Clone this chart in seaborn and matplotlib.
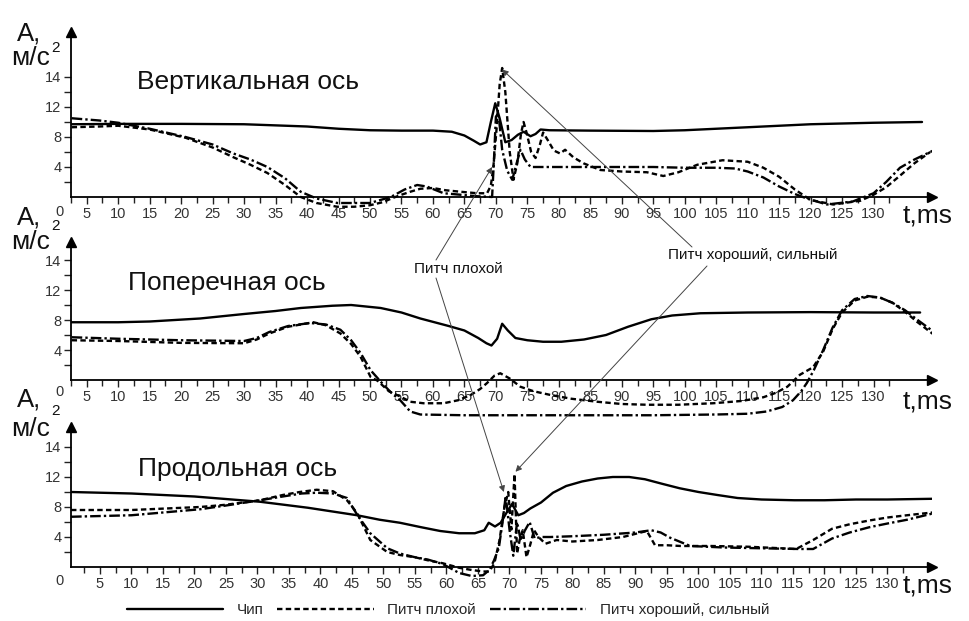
import numpy as np
import pandas as pd
import seaborn as sns
import matplotlib.pyplot as plt
from matplotlib.lines import Line2D

sns.set_theme(style='white')
plt.rcParams['font.family'] = ['Liberation Sans', 'DejaVu Sans']

SERIES = ['Чип', 'Питч плохой', 'Питч хороший, сильный']
PANEL_TITLES = ['Вертикальная ось', 'Поперечная ось', 'Продольная ось']

# y tick positions and the labels printed in the original figure
y_ticks = [4, 8, 12, 16]
y_tick_labels = ['4', '8', '12', '14']
y_minor = [2, 6, 10, 14]
x_ticks = list(range(5, 131, 5))
x_minor = [t + 2.5 for t in range(0, 135, 5)]

# --- vertical axis ---
vert_t_chip = [2.6, 10, 20, 30, 40, 45, 50, 55, 60, 63, 65, 66.5, 67.5, 68.5, 69.2, 69.9, 70.6, 71.5, 72.5, 73.5,
               74.4, 75.5, 76.3, 77.1, 78.5, 85, 95, 100, 105, 110, 115, 120, 125, 130, 137.7]
vert_a_chip = [9.7, 9.75, 9.75, 9.7, 9.4, 9.1, 8.9, 8.85, 8.85, 8.7, 8.2, 7.5, 7.0, 7.3, 10.0, 12.5, 10.5, 7.3, 7.6, 8.3,
               8.7, 8.1, 8.4, 9.0, 8.9, 8.85, 8.8, 8.9, 9.1, 9.3, 9.5, 9.7, 9.8, 9.9, 10.0]
vert_t_bad = [2.6, 7, 10, 15, 20.7, 25, 28.3, 31, 33.7, 36.5, 39, 41.5, 44.8, 47.5, 50, 52, 53.7, 55, 56.4, 58,
              60, 62, 64.4, 67, 68.6, 69.2, 69.6, 70.1, 70.6, 71.0, 71.5, 72.2, 72.8, 73.4, 74.0, 74.4, 74.9, 75.6, 76.3, 77.0,
              77.5, 78.3, 79.2, 80.2, 81.0, 82.3, 83.9, 86.6, 90, 94, 96.6, 99, 102, 106, 110, 112.5, 115, 117.5, 120, 123.6,
              127.9, 130, 132, 134, 136.5, 139]
vert_a_bad = [9.3, 9.4, 9.5, 9.0, 7.9, 6.6, 5.3, 4.3, 3.2, 1.6, 0.0, -0.8, -1.3, -1.3, -1.1, -0.7, -0.1, 0.3, 0.7, 1.1,
              1.2, 0.9, 0.7, 0.5, 0.5, 1.5, 4.0, 9.0, 15.0, 17.2, 14.0, 6.0, 2.3, 4.5, 8.5, 10.0, 8.5, 6.0, 5.2, 7.0,
              8.6, 7.5, 6.2, 5.8, 6.3, 5.3, 4.5, 3.6, 3.4, 3.3, 2.8, 3.3, 4.3, 4.9, 4.7, 3.9, 2.7, 1.0, -0.4, -1.0,
              -0.5, 0.3, 1.3, 2.7, 4.5, 6.0]
vert_t_good = [2.6, 7, 10, 15, 20.7, 25, 28.3, 31, 33.7, 36.5, 39, 41.5, 44.8, 47.5, 50, 53.3, 55.5, 57.5, 59, 61.7,
               64.4, 67, 69.4, 69.7, 70.0, 70.4, 71.0, 71.8, 72.6, 73.3, 73.9, 74.6, 75.5, 77, 80, 85, 90, 95, 100, 105,
               108, 110, 112.5, 115, 117.5, 119.4, 122.6, 126.7, 130, 132, 134.2, 136.5, 139.5]
vert_a_good = [10.5, 10.2, 9.9, 9.1, 8.0, 7.0, 5.8, 5.0, 4.0, 2.5, 0.7, -0.2, -0.8, -0.8, -0.8, 0.0, 1.0, 1.6, 1.4, 0.5,
               0.3, 0.1, 0.0, 5.0, 10.7, 11.2, 6.3, 3.5, 2.3, 4.5, 6.3, 5.0, 4.0, 4.0, 4.0, 4.0, 4.0, 4.0, 3.9, 3.9,
               3.8, 3.4, 2.6, 1.4, 0.4, -0.2, -1.0, -0.6, 0.5, 2.0, 3.9, 5.0, 6.2]

# --- transverse axis ---
cross_t_chip = [2.6, 10, 15, 23, 30, 35, 39, 44, 47, 51.7, 55, 58, 62.5, 65, 67.2, 68.5, 69.3, 70.2, 71.0, 71.9,
                73.1, 75, 77.5, 80.4, 84, 87.5, 91, 94.7, 98, 102.5, 110, 120, 130, 137.4]
cross_a_chip = [7.7, 7.7, 7.8, 8.2, 8.8, 9.2, 9.6, 9.9, 10.0, 9.6, 9.0, 8.2, 7.2, 6.6, 5.6, 4.9, 4.6, 5.5, 7.5, 6.6,
                5.6, 5.3, 5.1, 5.1, 5.4, 6.0, 7.1, 8.1, 8.6, 8.9, 9.0, 9.05, 9.0, 9.0]
cross_t_bad = [2.6, 10, 20, 30, 32, 34, 37, 41, 43, 45.3, 47, 48.5, 50.1, 51.2, 53, 54.8, 56.4, 58.5, 61.7, 64,
               66, 67.5, 68.6, 69.8, 70.7, 72.2, 73.9, 76, 78.7, 82, 86.1, 90, 94, 99, 104.5, 109, 112.5, 114.5, 116.3, 118.3,
               120.4, 122, 123.5, 125, 127, 129, 131, 133, 135, 137, 139.8]
cross_a_bad = [5.3, 5.2, 4.95, 4.9, 5.4, 6.2, 7.1, 7.7, 7.3, 6.2, 4.8, 3.1, 0.4, -0.1, -1.5, -2.2, -2.9, -3.1, -3.1, -2.7,
               -2.0, -1.2, -0.4, 0.6, 0.9, 0.2, -0.9, -1.5, -2.0, -2.5, -2.9, -3.2, -3.3, -3.3, -3.1, -2.8, -2.3, -1.7, -0.9, 0.7,
               1.7, 3.8, 6.8, 9.0, 10.6, 11.1, 11.0, 10.3, 9.1, 7.7, 5.9]
cross_t_good = [2.6, 10, 20, 30, 32, 34, 37, 40.5, 43, 45.3, 47, 48.5, 50.1, 52, 53.5, 54.8, 56.4, 58, 65, 80,
                95, 105, 110, 113, 115.5, 117.2, 118.5, 119.4, 120.5, 122, 123.5, 125, 127, 129, 131, 133, 135, 137, 139.6]
cross_a_good = [5.7, 5.5, 5.3, 5.2, 5.6, 6.4, 7.2, 7.6, 7.4, 6.7, 5.3, 3.6, 1.3, -0.5, -1.8, -2.7, -4.2, -4.6, -4.7, -4.7,
                -4.7, -4.6, -4.5, -4.2, -3.6, -2.7, -1.5, -0.4, 1.3, 4.0, 7.0, 9.3, 10.8, 11.2, 11.0, 10.3, 9.3, 8.0, 6.4]

# --- longitudinal axis ---
long_t_chip = [0.4, 10, 20, 30.4, 38, 45.8, 49.4, 52.6, 56, 59, 62, 64.5, 66, 66.7, 67.7, 68.6, 69.5, 70.4, 71.4, 72.3,
               73.3, 75, 76.9, 79, 81.5, 84, 86.4, 89, 91.5, 94.2, 97, 100, 103, 106.2, 110, 115.2, 120, 125, 130, 137.5]
long_a_chip = [10.0, 9.8, 9.4, 8.7, 7.9, 6.9, 6.3, 5.9, 5.3, 4.8, 4.5, 4.5, 4.9, 5.9, 5.4, 5.9, 7.2, 8.4, 6.9, 7.2,
               7.8, 8.6, 9.9, 10.8, 11.4, 11.8, 12.0, 12.0, 11.7, 11.1, 10.5, 10.0, 9.6, 9.2, 9.0, 8.9, 8.9, 9.0, 9.0, 9.1]
long_t_bad = [0.4, 10, 20.9, 25, 30.4, 34, 36.7, 39.4, 42, 44.2, 45.8, 47.9, 50.6, 52.6, 55, 57, 59.4, 62, 64, 65.8,
              66.8, 67.6, 68.4, 69.2, 69.8, 70.3, 70.8, 71.2, 71.7, 72.1, 72.7, 73.3, 73.9, 74.6, 75.7, 77.5, 80, 84, 88, 91.8,
              93.1, 95, 97.2, 102, 108, 113, 115.5, 118.2, 121.2, 124, 127.1, 130, 133.1, 137.5]
long_a_bad = [7.6, 7.6, 8.0, 8.3, 8.9, 9.6, 10.0, 10.3, 10.1, 8.9, 7.2, 3.6, 2.0, 1.6, 1.3, 0.9, 0.5, -0.1, -0.4, -0.6,
              -0.6, 0.5, 3.5, 8.0, 10.0, 5.0, 12.4, 1.8, 4.0, 4.9, 1.3, 3.0, 4.9, 4.0, 3.1, 3.6, 3.4, 3.6, 4.0, 4.8,
              2.9, 2.9, 2.8, 2.8, 2.7, 2.5, 2.4, 3.6, 5.1, 5.7, 6.2, 6.6, 6.9, 7.3]
long_t_good = [0.4, 10, 20.9, 25, 30.4, 34, 37, 39.4, 42, 44.2, 45.8, 47.9, 50.6, 52.6, 55, 57, 59.4, 62, 64, 65.8,
               66.8, 67.5, 68.3, 68.9, 69.4, 70.0, 70.6, 71.2, 71.8, 72.4, 73.2, 74.0, 75.0, 76.5, 80, 85, 90, 92.5, 94, 95.5,
               98.7, 104, 109.8, 116, 118.2, 121.2, 124, 127.1, 130, 133.1, 137.5]
long_a_good = [6.7, 6.9, 7.7, 8.2, 8.9, 9.4, 9.8, 9.9, 9.8, 9.2, 7.0, 4.5, 2.5, 1.8, 1.3, 1.0, 0.4, -0.8, -1.2, -1.1,
               -0.4, 0.8, 2.5, 6.0, 9.5, 5.0, 1.5, 6.0, 3.5, 4.8, 6.0, 3.8, 4.0, 4.0, 4.1, 4.3, 4.6, 4.9, 4.6, 3.9,
               2.8, 2.6, 2.5, 2.4, 2.4, 3.8, 4.6, 5.3, 5.8, 6.3, 7.2]


def panel_frame(ts, As):
    parts = [pd.DataFrame({'t': t, 'a': a, 'series': s}) for t, a, s in zip(ts, As, SERIES)]
    return pd.concat(parts, ignore_index=True)


frames = [
    panel_frame([vert_t_chip, vert_t_bad, vert_t_good], [vert_a_chip, vert_a_bad, vert_a_good]),
    panel_frame([cross_t_chip, cross_t_bad, cross_t_good], [cross_a_chip, cross_a_bad, cross_a_good]),
    panel_frame([long_t_chip, long_t_bad, long_t_good], [long_a_chip, long_a_bad, long_a_good]),
]

W, H = 970, 621
PX_PER_MS, PX_PER_UNIT = 6.3, 7.5
DASHES = {'Чип': '', 'Питч плохой': (2.3, 1.4), 'Питч хороший, сильный': (4.5, 1.3, 1, 1.3)}
STYLES = ['-', (0, (2.3, 1.4)), (0, (4.5, 1.3, 1, 1.3))]
INK = '#111111'
LW = 1.7


def fx(px, py):
    return px / W, 1 - py / H


fig = plt.figure(figsize=(W / 100, H / 100), dpi=100)

# panel geometry in pixels: y of zero line, top of y axis, lowest value, px of 5 ms
panels = [dict(y0=197, top=32, ymin=-2.5, x5=86),
          dict(y0=380, top=242, ymin=-5.4, x5=86),
          dict(y0=567, top=427, ymin=-1.9, x5=100)]
left_px, right_px = 71, 932

axes = []
for p, df in zip(panels, frames):
    bottom_px = p['y0'] - p['ymin'] * PX_PER_UNIT
    ax = fig.add_axes([left_px / W, 1 - bottom_px / H, (right_px - left_px) / W, (bottom_px - p['top']) / H])
    ax.patch.set_alpha(0)
    sns.lineplot(data=df, x='t', y='a', style='series', style_order=SERIES, dashes=DASHES,
                 color='black', linewidth=LW, estimator=None, sort=False, legend=False, ax=ax)
    xmin = 5 + (left_px - p['x5']) / PX_PER_MS
    xmax = 5 + (right_px - p['x5']) / PX_PER_MS
    ymax = (p['y0'] - p['top']) / PX_PER_UNIT
    ax.set_xlim(xmin, xmax)
    ax.set_ylim(p['ymin'], ymax)
    ax.set_xlabel('')
    ax.set_ylabel('')
    ax.spines[['top', 'right']].set_visible(False)
    ax.spines['bottom'].set_position(('data', 0))
    ax.spines['left'].set_bounds(0, ymax)
    for s in ('left', 'bottom'):
        ax.spines[s].set_color('black')
        ax.spines[s].set_linewidth(1.3)
    ax.plot(1, 0, '>', color='black', ms=7, transform=ax.get_yaxis_transform(), clip_on=False)
    ax.plot(0, 1, '^', color='black', ms=7, transform=ax.transAxes, clip_on=False)

    ax.set_xticks(x_ticks)
    ax.set_xticklabels([str(v) for v in x_ticks])
    ax.set_xticks(x_minor, minor=True)
    ax.set_yticks(y_ticks)
    ax.set_yticklabels(y_tick_labels)
    ax.set_yticks(y_minor, minor=True)
    ax.tick_params(axis='both', which='both', direction='out', color='#222222', width=1,
                   labelsize=10.5, labelcolor='#333333', bottom=True, left=True)
    ax.tick_params(axis='x', which='major', length=5, pad=2)
    ax.tick_params(axis='x', which='minor', length=4)
    ax.tick_params(axis='y', which='both', length=5, pad=2)
    ax.grid(False)
    axes.append(ax)

# axis captions, origin zeros, time labels and panel titles
for (ax_y, sup_y, ms_y), zero_y, t_y, (tx, ty), title in zip(
        [(34, 48, 58), (218, 226, 242), (399, 411, 429)],
        [212, 392, 581], [215, 401, 586],
        [(248, 82), (227, 283), (238, 469)], PANEL_TITLES):
    fig.text(*fx(29, ax_y), 'А,', fontsize=18.5, ha='center', va='center', color=INK)
    fig.text(*fx(31, ms_y), 'м/с', fontsize=19, ha='center', va='center', color=INK)
    fig.text(*fx(56, sup_y), '2', fontsize=11, ha='center', va='center', color=INK)
    fig.text(*fx(60, zero_y), '0', fontsize=10.5, ha='center', va='center', color='#333333')
    fig.text(*fx(928, t_y), 't,ms', fontsize=19, ha='center', va='center', color=INK)
    fig.text(*fx(tx, ty), title, fontsize=19, ha='center', va='center', color=INK)

# annotations pointing into the panels
fig.text(*fx(458, 269), 'Питч плохой', fontsize=11, ha='center', va='center', color=INK)
fig.text(*fx(753, 255), 'Питч хороший, сильный', fontsize=11, ha='center', va='center', color=INK)
arrow = dict(arrowstyle='-|>', color='#444444', lw=0.7, mutation_scale=9, shrinkA=0, shrinkB=0)
for ax, tip, start in [(axes[0], (69.4, 4.0), (436, 260)),
                       (axes[2], (69.1, 10.0), (436, 278)),
                       (axes[0], (71.0, 17.0), (692, 247)),
                       (axes[2], (70.95, 12.7), (707, 266))]:
    ax.annotate('', xy=tip, xycoords='data', xytext=fx(*start), textcoords='figure fraction',
                arrowprops=arrow, annotation_clip=False)

handles = [Line2D([], [], color='black', lw=LW, linestyle=ls) for ls in STYLES]
fig.legend(handles, SERIES, loc='center', bbox_to_anchor=fx(448, 610), ncol=3, frameon=False,
           handlelength=6.3, handletextpad=0.9, columnspacing=0.9, fontsize=11)

plt.savefig('out.png', dpi=100)
